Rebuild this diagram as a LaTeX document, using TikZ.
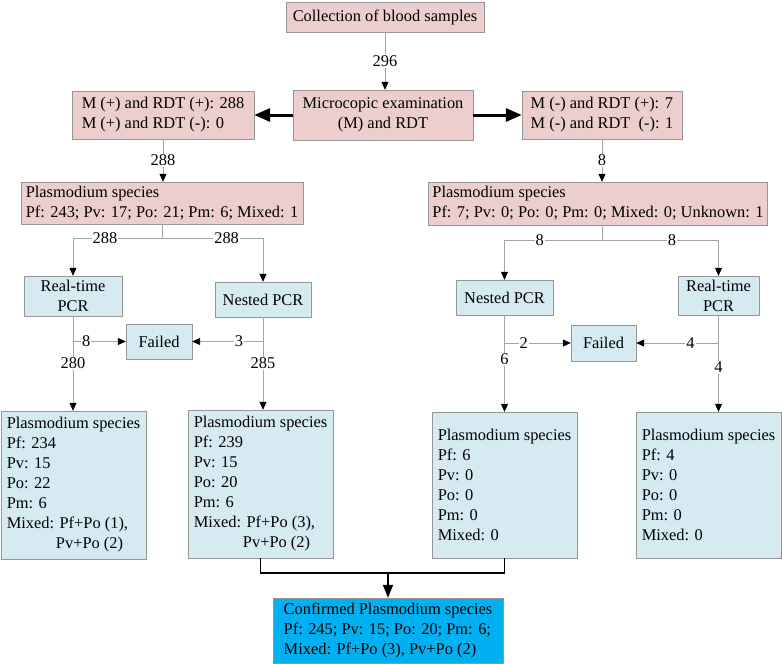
\documentclass[tikz,border=0pt]{standalone}
\usepackage{fontspec}
\setmainfont{Liberation Serif}
\usetikzlibrary{arrows.meta}
\definecolor{pinkfill}{RGB}{236,206,206}
\definecolor{bluefill}{RGB}{213,234,241}
\definecolor{confblue}{RGB}{0,176,240}
\definecolor{edgegray}{RGB}{150,150,150}
\definecolor{linegray}{RGB}{165,165,165}
\newcommand{\boxfont}{\fontsize{16.4pt}{20pt}\selectfont}
\tikzset{
    pink box/.style={draw=edgegray, fill=pinkfill, font=\boxfont, inner xsep=5pt, inner ysep=0pt},
    blue box/.style={draw=edgegray, fill=bluefill, font=\boxfont, inner xsep=5pt, inner ysep=0pt},
    conn/.style={draw=linegray, line width=0.8pt, -{Triangle[length=8pt,width=7pt,color=black]}},
    plain conn/.style={draw=linegray, line width=0.8pt},
    big arrow/.style={draw=black, line width=3pt, -{Triangle[length=16pt,width=13pt]}},
    merge/.style={draw=black, line width=1.6pt}
  }

\begin{document}
\begin{tikzpicture}[x=1pt,y=-1pt]
    \tikzstyle{num}=[font=\boxfont,fill=white,inner sep=1pt]
    \useasboundingbox (0,0) rectangle (782,664);

    % screening
    \node[pink box, minimum width=198pt, minimum height=30pt] (coll) at (385,17) {Collection of blood samples};
    \node[pink box, align=center, minimum width=180pt, minimum height=50pt] (micro) at (383,115) {Microcopic examination\\(M) and RDT};
    \node[pink box, align=left, minimum width=182pt, minimum height=48pt] (mpos) at (163,115) {M (+) and RDT (+): 288\\M (+) and RDT (-): 0};
    \node[pink box, align=left, minimum width=160pt, minimum height=48pt] (mneg) at (602,115) {M (-) and RDT (+): 7\\M (-) and RDT~ (-): 1};
    \node[pink box, align=left, minimum width=280pt, minimum height=42pt] (specL) at (162,203) {Plasmodium species\\Pf: 243; Pv: 17; Po: 21; Pm: 6; Mixed: 1};
    \node[pink box, align=left, inner xsep=4pt, minimum width=332pt, minimum height=43pt] (specR) at (598,203.5) {Plasmodium species\\Pf: 7; Pv: 0; Po: 0; Pm: 0; Mixed: 0; Unknown: 1};

    % PCR
    \node[blue box, align=center, minimum width=98pt, minimum height=40pt] (rtL) at (73,296) {Real-time\\PCR};
    \node[blue box, minimum width=96pt, minimum height=35pt] (nestL) at (263,299.5) {Nested PCR};
    \node[blue box, minimum width=66pt, minimum height=35pt] (failL) at (159,341.5) {Failed};
    \node[blue box, minimum width=97pt, minimum height=35pt] (nestR) at (504.5,297.5) {Nested PCR};
    \node[blue box, align=center, minimum width=81pt, minimum height=39pt] (rtR) at (718.5,295.5) {Real-time\\PCR};
    \node[blue box, minimum width=65pt, minimum height=36pt] (failR) at (603.5,343) {Failed};

    % results
    \node[blue box, align=left, minimum width=145pt, minimum height=148pt] (boxL1) at (73.5,485) {Plasmodium species\\Pf: 234\\Pv: 15\\Po: 22\\Pm: 6\\Mixed: Pf+Po (1),\\\hspace*{3em}Pv+Po (2)};
    \node[blue box, align=left, minimum width=145pt, minimum height=148pt] (boxL2) at (260.5,484) {Plasmodium species\\Pf: 239\\Pv: 15\\Po: 20\\Pm: 6\\Mixed: Pf+Po (3),\\\hspace*{3em}Pv+Po (2)};
    \node[blue box, align=left, minimum width=145pt, minimum height=146pt] (boxR1) at (504.5,485) {Plasmodium species\\Pf: 6\\Pv: 0\\Po: 0\\Pm: 0\\Mixed: 0};
    \node[blue box, align=left, minimum width=145pt, minimum height=146pt] (boxR2) at (708.5,485) {Plasmodium species\\Pf: 4\\Pv: 0\\Po: 0\\Pm: 0\\Mixed: 0};
    \node[blue box, fill=confblue, align=left, minimum width=230pt, minimum height=65pt] (conf) at (388,630.5) {Confirmed Plasmodium species\\Pf: 245; Pv: 15; Po: 20; Pm: 6;\\Mixed: Pf+Po (3), Pv+Po (2)};

    \draw[conn] (coll) -- node[num]{296} (coll |- micro.north);
    \draw[big arrow] (micro) -- (mpos);
    \draw[big arrow] (micro) -- (mneg);
    \draw[conn] (mpos.south) -- node[num]{288} (mpos.south |- specL.north);
    \draw[conn] (mneg.south) -- node[num]{8} (mneg.south |- specR.north);

    \draw[plain conn] (specL.south) -- ++(0,14) coordinate (bL);
    \draw[conn] (bL) -| node[num,pos=0.32]{288} (rtL.north);
    \draw[conn] (bL) -| node[num,pos=0.32]{288} (nestL.north);
    \draw[plain conn] (mneg.south |- specR.south) -- ++(0,15) coordinate (bR);
    \draw[conn] (bR) -| node[num,pos=0.32]{8} (nestR.north);
    \draw[conn] (bR) -| node[num,pos=0.3]{8} (rtR.north);

    \draw[conn] (rtL.south) -- node[num]{280} (rtL.south |- boxL1.north);
    \draw[conn] (rtL.south |- failL) -- node[num,pos=0.25]{8} (failL);
    \draw[conn] (nestL.south) -- node[num]{285} (nestL.south |- boxL2.north);
    \draw[conn] (nestL.south |- failL) -- node[num,pos=0.34]{3} (failL);
    \draw[conn] (nestR.south) -- node[num,pos=0.46]{6} (nestR.south |- boxR1.north);
    \draw[conn] (nestR.south |- failR) -- node[num,pos=0.29]{2} (failR);
    \draw[conn] (rtR.south) -- node[num,pos=0.54]{4} (rtR.south |- boxR2.north);
    \draw[conn] (rtR.south |- failR) -- node[num,pos=0.34]{4} (failR);

    \draw[merge] (boxL2.south) -- ++(0,15) coordinate (mL) -| (boxR1.south);
    \draw[merge, -{Triangle[length=13pt,width=10pt]}] (conf.north |- mL) -- (conf.north);
%    \draw[merge] (boxL2.south) |- (conf.north);
\end{tikzpicture}
\end{document}
